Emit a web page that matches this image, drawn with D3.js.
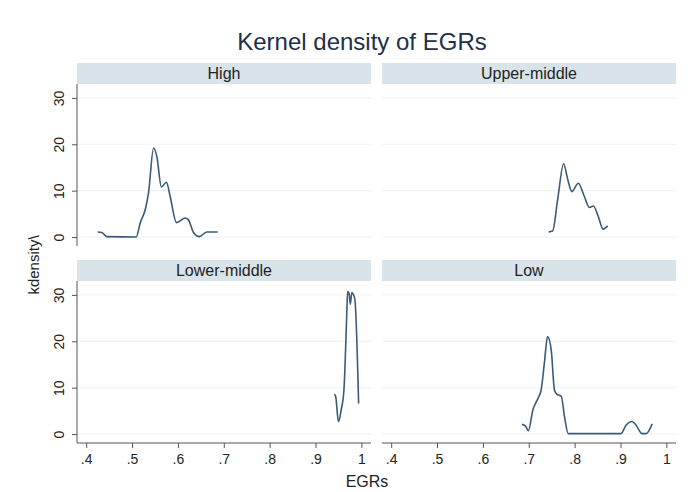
<!DOCTYPE html>
<html>
<head>
<meta charset="utf-8">
<script src="https://cdn.jsdelivr.net/npm/d3@7"></script>
<style>
  body { margin: 0; background: #fff; }
  text { font-family: "Liberation Sans", Arial, sans-serif; fill: #222; }
</style>
</head>
<body>
<div id="chart"></div>
<script>
// Panel names and tick values
const panelNames = ["High", "Upper-middle", "Lower-middle", "Low"];
const xTicks = [0.4, 0.5, 0.6, 0.7, 0.8, 0.9, 1];
const yTicks = [0, 10, 20, 30];

// Density curves: [EGR, density]
const highX = [.425, .434, .445, .509, .518, .529, .536, .547, .554, .564, .575, .583, .597, .616, .623, .634, .647, .663, .687];
const highY = [1.1, 1.0, 0.1, 0, 3.1, 6.0, 9.6, 19.2, 17.4, 10.8, 11.8, 8.8, 3.1, 4.1, 3.7, 1.0, 0.1, 1.1, 1.1];

const upperX = [.743, .752, .763, .776, .785, .794, .808, .821, .832, .841, .851, .862, .872];
const upperY = [1.1, 1.3, 8.1, 15.8, 12.4, 9.8, 11.6, 8.8, 6.4, 6.7, 4.6, 1.7, 2.4];

const lowerX = [.941, .944, .950, .956, .962, .968, .970, .973, .976, .979, .983, .986, .994];
const lowerY = [8.6, 8.1, 2.7, 5.2, 9.5, 25.3, 30.7, 30.4, 28.0, 30.5, 30.0, 28.9, 6.6];

const lowX = [.685, .693, .699, .709, .720, .727, .734, .741, .749, .756, .761, .771, .778, .786, .901, .912, .925, .934, .947, .956, .969];
const lowY = [2.1, 1.7, 0.7, 5.2, 7.7, 9.5, 15.3, 21.0, 18.1, 9.5, 8.6, 8.1, 3.7, 0.1, 0.1, 1.9, 2.7, 1.9, 0.1, 0.1, 2.2];

const series = [
  highX.map((x, i) => [x, highY[i]]),
  upperX.map((x, i) => [x, upperY[i]]),
  lowerX.map((x, i) => [x, lowerY[i]]),
  lowX.map((x, i) => [x, lowY[i]])
];

const width = 690, height = 492;
const svg = d3.select("#chart").append("svg")
  .attr("width", width)
  .attr("height", height);

svg.append("rect").attr("width", width).attr("height", height).attr("fill", "#fff");

// Title
svg.append("text")
  .attr("x", 362).attr("y", 50)
  .attr("text-anchor", "middle")
  .style("font-size", "24px")
  .style("fill", "#1e2f4a")
  .text("Kernel density of EGRs");

// Panel geometry
const colX = [77, 382], colW = 294;
const rowY = [84, 281], rowH = 162, stripH = 21;

const lineColor = "#3c5a78";

panelNames.forEach((name, i) => {
  const col = i % 2, row = Math.floor(i / 2);
  const g = svg.append("g").attr("transform", `translate(${colX[col]},${rowY[row]})`);

  const x = d3.scaleLinear().domain([0.38, 1.021]).range([0, colW]);
  const y = d3.scaleLinear().domain([-1.93, 33]).range([rowH, 0]);

  // Strip header
  g.append("rect")
    .attr("x", 0).attr("y", -stripH)
    .attr("width", colW).attr("height", stripH)
    .attr("fill", "#d9e4ea");
  g.append("text")
    .attr("x", colW / 2).attr("y", -5)
    .attr("text-anchor", "middle")
    .style("font-size", "16px")
    .text(name);

  // Gridlines
  g.selectAll(".grid").data(yTicks).enter().append("line")
    .attr("x1", 0).attr("x2", colW)
    .attr("y1", d => y(d)).attr("y2", d => y(d))
    .attr("stroke", "#edf2f4").attr("stroke-width", 1);

  // Y axis on the left column
  if (col === 0) {
    const yAxis = g.append("g")
      .call(d3.axisLeft(y).tickValues(yTicks).tickSize(5).tickPadding(4));
    yAxis.select(".domain").attr("stroke", "#555").attr("d", `M0,0V${rowH}`);
    yAxis.selectAll(".tick line").attr("stroke", "#555");
    yAxis.selectAll(".tick text")
      .attr("transform", "rotate(-90)")
      .attr("x", 0).attr("y", -13)
      .attr("dy", 0)
      .attr("text-anchor", "middle")
      .style("font-size", "14px");
  }

  // X axis on the bottom row
  if (row === 1) {
    const xAxis = g.append("g")
      .attr("transform", `translate(0,${rowH})`)
      .call(d3.axisBottom(x).tickValues(xTicks).tickSize(5).tickPadding(6)
        .tickFormat(d => d === 1 ? "1" : d3.format(".1f")(d).replace(/^0/, "")));
    xAxis.select(".domain").attr("stroke", "#555").attr("d", `M0,0H${colW}`);
    xAxis.selectAll(".tick line").attr("stroke", "#555");
    xAxis.selectAll(".tick text").style("font-size", "14px");
  }

  // Density curve
  const line = d3.line()
    .x(d => x(d[0]))
    .y(d => y(d[1]))
    .curve(d3.curveMonotoneX);

  g.append("path")
    .datum(series[i])
    .attr("fill", "none")
    .attr("stroke", lineColor)
    .attr("stroke-width", 1.6)
    .attr("d", line);
});

// Axis titles
svg.append("text")
  .attr("transform", "translate(39,265) rotate(-90)")
  .attr("text-anchor", "middle")
  .style("font-size", "15px")
  .text("kdensity\\");

svg.append("text")
  .attr("x", 367).attr("y", 487)
  .attr("text-anchor", "middle")
  .style("font-size", "16px")
  .text("EGRs");
</script>
</body>
</html>
